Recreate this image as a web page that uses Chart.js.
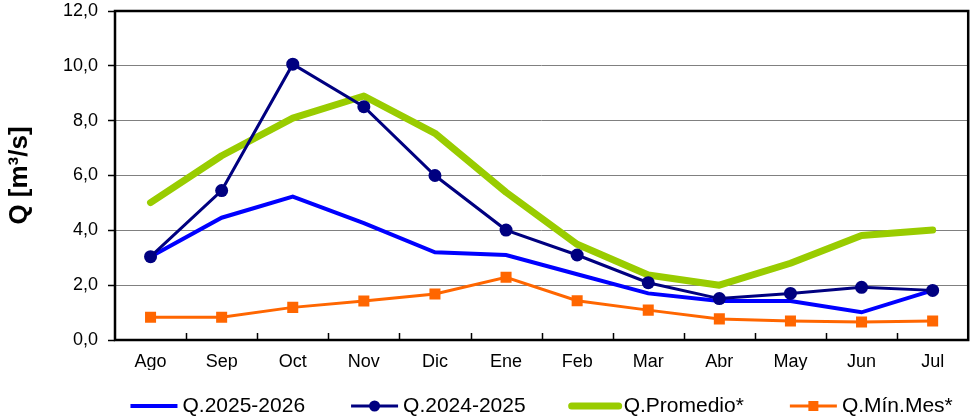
<!DOCTYPE html>
<html>
<head>
<meta charset="utf-8">
<script src="https://cdn.jsdelivr.net/npm/chart.js@4.4.1/dist/chart.umd.min.js"></script>
<style>
html,body{margin:0;padding:0;background:#fff;}
#wrap{width:976px;height:419px;position:relative;}
</style>
</head>
<body>
<div id="wrap"><canvas id="c"></canvas></div>
<script>
const months = ['Ago','Sep','Oct','Nov','Dic','Ene','Feb','Mar','Abr','May','Jun','Jul'];
const q2025_2026 = [3.04,4.46,5.23,4.26,3.20,3.10,2.40,1.70,1.42,1.42,1.01,1.81];
const q2024_2025 = [3.04,5.45,10.06,8.51,6.00,4.01,3.10,2.09,1.51,1.70,1.92,1.81];
const qPromedio = [5.01,6.72,8.09,8.90,7.54,5.39,3.49,2.37,2.00,2.80,3.81,4.01];
const qMinMes = [0.83,0.83,1.19,1.42,1.68,2.29,1.43,1.09,0.77,0.69,0.66,0.69];
const yTicks = {min:0, max:12, step:2};
const seriesNames = ['Q.2025-2026','Q.2024-2025','Q.Promedio*','Q.Mín.Mes*'];

const FONT = '"Liberation Sans", Arial, Helvetica, sans-serif';

const frame = {
  id:'frame',
  afterDatasetsDraw(chart){
    const {ctx, chartArea:a} = chart;
    const xs = chart.scales.x;
    ctx.save();
    ctx.strokeStyle = '#000';
    ctx.lineWidth = 1.5;
    ctx.beginPath();
    for (let i = 1; i < months.length; i++) {
      const x = Math.round((xs.getPixelForValue(i-1) + xs.getPixelForValue(i)) / 2) + 0.5;
      ctx.moveTo(x, a.bottom);
      ctx.lineTo(x, a.bottom - 7);
    }
    ctx.stroke();
    ctx.lineWidth = 2.5;
    ctx.strokeRect(a.left, a.top, a.right - a.left, a.bottom - a.top);
    ctx.restore();
  }
};

const legendPlug = {
  id:'customLegend',
  afterDraw(chart){
    const {ctx, chartArea:a} = chart;
    const ds = chart.data.datasets;
    const order = [0,1,2,3];
    ctx.save();
    ctx.font = '21px ' + FONT;
    const lineLen = 47, gapText = 5, gapItem = 46;
    const widths = order.map(i => ctx.measureText(ds[i].label).width);
    let total = 0;
    widths.forEach((w,k) => { total += lineLen + gapText + w; if (k < widths.length-1) total += gapItem; });
    let x = (a.left + a.right)/2 - total/2;
    const y = 406;
    order.forEach((i,k) => {
      const d = ds[i];
      ctx.strokeStyle = d.borderColor;
      ctx.lineWidth = d.legendLineWidth;
      ctx.lineCap = d.borderCapStyle === 'round' ? 'round' : 'butt';
      ctx.beginPath();
      ctx.moveTo(x, y); ctx.lineTo(x + lineLen, y); ctx.stroke();
      const cx = x + lineLen/2;
      if (d.pointStyle === 'circle' && d.pointRadius > 0) {
        ctx.fillStyle = d.borderColor;
        ctx.beginPath(); ctx.arc(cx, y, 5.5, 0, Math.PI*2); ctx.fill();
      } else if (d.pointStyle === 'rect' && d.pointRadius > 0) {
        ctx.fillStyle = d.borderColor;
        ctx.fillRect(cx - 5, y - 5, 10, 10);
      }
      ctx.fillStyle = '#000';
      ctx.textBaseline = 'middle';
      ctx.textAlign = 'left';
      ctx.fillText(d.label, x + lineLen + gapText, y);
      x += lineLen + gapText + widths[k] + gapItem;
    });
    ctx.restore();
  }
};

new Chart(document.getElementById('c'), {
  type:'line',
  data:{
    labels: months,
    datasets:[
      {label:seriesNames[0], data:q2025_2026, borderColor:'#0000FF', backgroundColor:'#0000FF', borderWidth:4, legendLineWidth:4, pointRadius:0, pointStyle:false, tension:0, order:1},
      {label:seriesNames[1], data:q2024_2025, borderColor:'#000080', backgroundColor:'#000080', borderWidth:3, legendLineWidth:3, pointRadius:6.5, pointStyle:'circle', pointBorderWidth:0, tension:0, order:0},
      {label:seriesNames[2], data:qPromedio, borderColor:'#99CC00', backgroundColor:'#99CC00', borderWidth:7, legendLineWidth:7, pointRadius:0, pointStyle:false, borderCapStyle:'round', borderJoinStyle:'round', tension:0, order:3},
      {label:seriesNames[3], data:qMinMes, borderColor:'#FF6600', backgroundColor:'#FF6600', borderWidth:3, legendLineWidth:3, pointRadius:7.8, pointStyle:'rect', pointBorderWidth:0, tension:0, order:2}
    ]
  },
  options:{
    responsive:true,
    maintainAspectRatio:false,
    animation:false,
    devicePixelRatio:1,
    layout:{padding:{top:11, right:6, bottom:49, left:0}},
    plugins:{legend:{display:false}, tooltip:{enabled:false}},
    scales:{
      x:{
        offset:true,
        grid:{display:false, drawTicks:false},
        border:{display:false},
        ticks:{color:'#000', font:{family:FONT, size:18}, padding:11, maxRotation:0, autoSkip:false},
        afterFit(s){ s.height = 30; s.paddingLeft = 0; s.paddingRight = 0; }
      },
      y:{
        min:yTicks.min, max:yTicks.max,
        ticks:{stepSize:yTicks.step, color:'#000', font:{family:FONT, size:18}, padding:10,
          callback:v => v.toFixed(1).replace('.', ',')},
        grid:{color:'#808080', lineWidth:1, tickLength:7, tickColor:'#000', tickWidth:1.5},
        border:{display:false},
        title:{display:true, text:'Q [m³/s]', color:'#000', font:{family:FONT, size:26, weight:'bold'}, padding:{top:4, bottom:0}},
        afterFit(s){ s.width = 115; s.paddingTop = 0; s.paddingBottom = 0; }
      }
    }
  },
  plugins:[frame, legendPlug]
});
</script>
</body>
</html>
